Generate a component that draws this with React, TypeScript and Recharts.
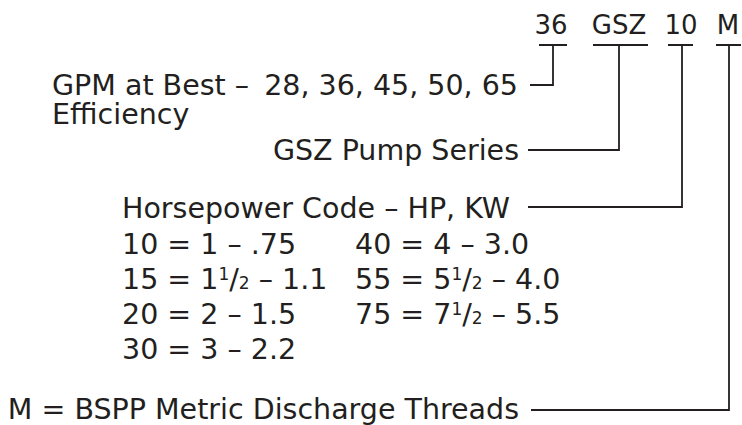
import { ComposedChart, XAxis, YAxis, Line, Scatter } from "recharts";

const INK = "#231f20";
const FONT = "'DejaVu Sans', sans-serif";
const SIZE = 28.5;
const CODE_SIZE = 26;

// model code tokens and where each sits (centre of its underline bar)
const codeTokens = ["36", "GSZ", "10", "M"];
const codeX = [551, 619, 681, 728];
const codeBaseline = 34;

// leader lines: from the label, across, up to the bar, then along the bar
const gpmLeader = [
  { x: 530, y: 85 }, { x: 553, y: 85 }, { x: 553, y: 45 }, { x: 539, y: 45 }, { x: 567, y: 45 },
];
const seriesLeader = [
  { x: 528, y: 150 }, { x: 619, y: 150 }, { x: 619, y: 45 }, { x: 593, y: 45 }, { x: 648, y: 45 },
];
const hpLeader = [
  { x: 528, y: 207 }, { x: 682, y: 207 }, { x: 682, y: 45 }, { x: 668, y: 45 }, { x: 693, y: 45 },
];
const metricLeader = [
  { x: 531, y: 410 }, { x: 729, y: 410 }, { x: 729, y: 45 }, { x: 716, y: 45 }, { x: 741, y: 45 },
];
const leaders = [gpmLeader, seriesLeader, hpLeader, metricLeader];

// horsepower code table, two columns
const hpLeft = ["10 = 1 – .75", "15 = 1½ – 1.1", "20 = 2 – 1.5", "30 = 3 – 2.2"];
const hpRight = ["40 = 4 – 3.0", "55 = 5½ – 4.0", "75 = 7½ – 5.5"];
const hpRowBaselines = [254, 289, 324, 359];

const labels = [
  ...codeTokens.map((t, i) => ({ x: codeX[i], y: codeBaseline, text: t, anchor: "middle", size: CODE_SIZE })),
  { x: 52, y: 95, text: "GPM at Best –", anchor: "start" },
  { x: 518, y: 95, text: "28, 36, 45, 50, 65", anchor: "end" },
  { x: 52, y: 124, text: "Efficiency", anchor: "start" },
  { x: 519, y: 160, text: "GSZ Pump Series", anchor: "end" },
  { x: 122, y: 218, text: "Horsepower Code – HP, KW", anchor: "start" },
  ...hpLeft.map((t, i) => ({ x: 122, y: hpRowBaselines[i], text: t, anchor: "start" })),
  ...hpRight.map((t, i) => ({ x: 355, y: hpRowBaselines[i], text: t, anchor: "start" })),
  { x: 519, y: 419, text: "M = BSPP Metric Discharge Threads", anchor: "end" },
];

function LabelText(props: any) {
  const { cx, cy, payload } = props;
  const size = payload.size ?? SIZE;
  const parts = String(payload.text).split("½");
  const small = Math.round(size * 0.6);
  return (
    <text x={cx} y={cy} textAnchor={payload.anchor} fill={INK} fontFamily={FONT} fontSize={size}>
      {parts.map((p, i) => (
        <tspan key={i}>
          {p}
          {i < parts.length - 1 && (
            <>
              <tspan fontSize={small} dy={-9}>1</tspan>
              <tspan dy={9}>/</tspan>
              <tspan fontSize={small}>2</tspan>
            </>
          )}
        </tspan>
      ))}
    </text>
  );
}

export default function App() {
  return (
    <div style={{ position: "absolute", left: 0, top: 0, background: "#fff" }}>
      <ComposedChart width={742} height={425} margin={{ top: 0, right: 0, bottom: 0, left: 0 }}>
        <XAxis type="number" dataKey="x" domain={[0, 742]} hide allowDataOverflow />
        <YAxis type="number" dataKey="y" domain={[0, 425]} reversed hide allowDataOverflow />
        {leaders.map((pts, i) => (
          <Line
            key={i}
            data={pts}
            dataKey="y"
            type="linear"
            stroke={INK}
            strokeWidth={1.8}
            dot={false}
            activeDot={false}
            isAnimationActive={false}
          />
        ))}
        <Scatter data={labels} dataKey="y" shape={LabelText} isAnimationActive={false} />
      </ComposedChart>
    </div>
  );
}
